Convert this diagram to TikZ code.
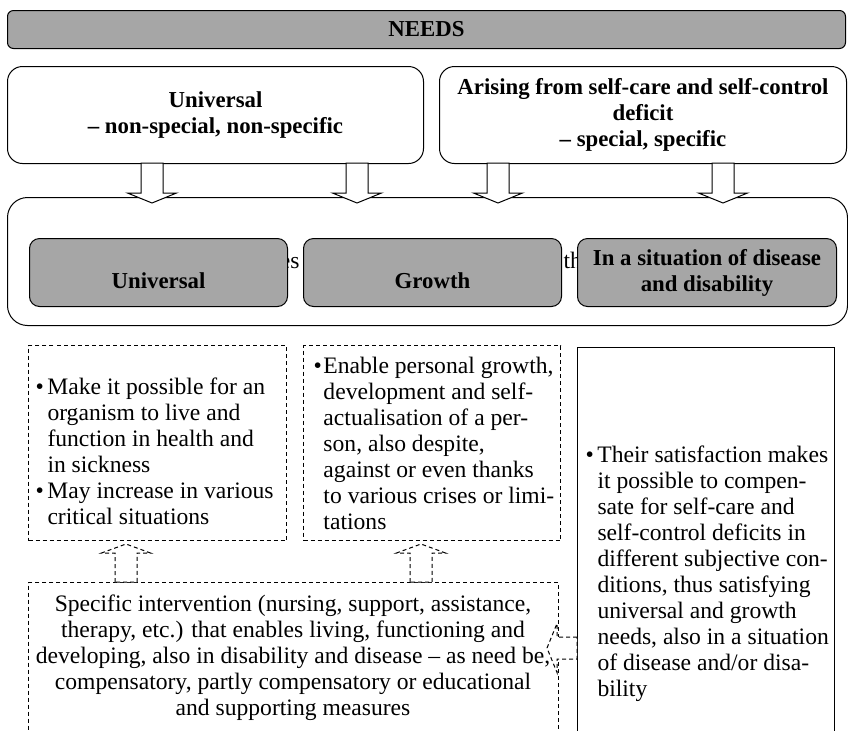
\documentclass[tikz,border=0pt]{standalone}
\usepackage{fontspec}
\setmainfont{Liberation Serif}
\definecolor{needgray}{RGB}{166,166,166}
\newcommand{\bul}{\makebox[6pt][l]{\textbullet}}
\newcommand{\ind}{\hspace*{6pt}}
\newcommand{\boldtxt}{\fontsize{11.4}{13}\selectfont\bfseries}
\tikzset{
  needbar/.style={draw, fill=needgray, rounded corners=3pt, inner sep=0pt, anchor=north west, font=\boldtxt},
  topbox/.style={draw, fill=white, rounded corners=7.5pt, inner sep=0pt, anchor=north west, align=center, font=\boldtxt},
  bigbox/.style={draw, rounded corners=10pt, inner sep=0pt, anchor=north west},
  graybox/.style={draw, fill=needgray, rounded corners=5pt, inner sep=0pt, anchor=north west, align=center, font=\boldtxt},
  dashbox/.style={draw, dash pattern=on 2pt off 1.5pt, inner sep=0pt, anchor=north west},
  plainbox/.style={draw, inner sep=0pt, anchor=north west},
  txt/.style={inner sep=0pt, align=left, anchor=west},
  blockarrow/.style={draw, fill=white, line join=miter},
  dasharrow/.style={blockarrow, dash pattern=on 2pt off 1.5pt}
}
\begin{document}
\fontsize{11.8}{13}\selectfont
\begin{tikzpicture}[x=0.5pt, y=-0.5pt, line width=0.5pt]
\useasboundingbox (0,0) rectangle (848,730);

\node[needbar, minimum width=419pt, minimum height=19pt] (needs) at (7,10) {NEEDS};

\node[topbox, minimum width=208pt, minimum height=48.5pt] (univ) at (7,66)
  {Universal\\-- non-special, non-specific};
\node[topbox, minimum width=203.5pt, minimum height=48.5pt] (arising) at (439,66)
  {Arising from self-care and self-control\\deficit\\-- special, specific};

% lower frame with the three kinds of needs
\node[bigbox, minimum width=420pt, minimum height=64pt] (frame) at (7,197) {};
\node[inner sep=0pt, anchor=base east] (es) at (300,268) {es};
\node[inner sep=0pt, anchor=base west] (th) at (563,268) {th};

\node[graybox, minimum width=129pt, minimum height=34pt] (universal) at (29,238) {};
\node[graybox, minimum width=129pt, minimum height=34pt] (growth) at (303,238) {};
\node[graybox, minimum width=129.5pt, minimum height=34pt] (disease) at (577,238)
  {In a situation of disease\\and disability};
\node[inner sep=0pt, font=\boldtxt] (universallbl) at ([yshift=-4pt]universal.center) {Universal};
\node[inner sep=0pt, font=\boldtxt] (growthlbl) at ([yshift=-4pt]growth.center) {Growth};

\foreach \x in {152,357,498,723}{
\draw[blockarrow] (\x-11,163) -- (\x-11,193) -- (\x-24.5,193) -- (\x,203)
  -- (\x+24.5,193) -- (\x+11,193) -- (\x+11,163) -- cycle;
}

% dashed boxes
\node[dashbox, minimum width=129pt, minimum height=97.5pt] (box1) at (28,345) {};
\node[txt] (box1txt) at (35,451)
  {\bul Make it possible for an\\
   \ind organism to live and\\
   \ind function in health and\\
   \ind in sickness\\
   \bul May increase in various\\
   \ind critical situations};

\node[dashbox, minimum width=128.5pt, minimum height=97.5pt] (box2) at (303,345) {};
\node[txt] (box2txt) at (313,443)
  {\makebox[5pt][l]{\textbullet}Enable personal growth,\\
   \hspace*{5pt}development and self-\\
   \hspace*{5pt}actualisation of a per-\\
   \hspace*{5pt}son, also despite,\\
   \hspace*{5pt}against or even thanks\\
   \hspace*{5pt}to various crises or limi-\\
   \hspace*{5pt}tations};

\node[plainbox, minimum width=128.5pt, minimum height=210pt] (box3) at (577,347) {};
\node[txt] (box3txt) at (585,574)
  {\bul Their satisfaction makes\\
   \ind it possible to compen-\\
   \ind sate for self-care and\\
   \ind self-control deficits in\\
   \ind different subjective con-\\
   \ind ditions, thus satisfying\\
   \ind universal and growth\\
   \ind needs, also in a situation\\
   \ind of disease and/or disa-\\
   \ind bility};

\node[dashbox, minimum width=265pt, minimum height=95pt] (inter) at (28,582) {};
\node[inner sep=0pt, align=center] (intertxt) at (293,658)
  {Specific intervention (nursing, support, assistance,\\
   therapy, etc.) that enables living, functioning and\\
   developing, also in disability and disease -- as need be,\\
   compensatory, partly compensatory or educational\\
   and supporting measures};

\foreach \x in {126,421}{
\draw[dasharrow] (\x-11,582) -- (\x-11,553) -- (\x-24.5,553) -- (\x,544)
  -- (\x+24.5,553) -- (\x+11,553) -- (\x+11,582) -- cycle;
}
\draw[dasharrow] (577,637) -- (557,637) -- (557,623.5) -- (547,648)
  -- (557,672.5) -- (557,659) -- (577,659) -- cycle;
\end{tikzpicture}
\end{document}
